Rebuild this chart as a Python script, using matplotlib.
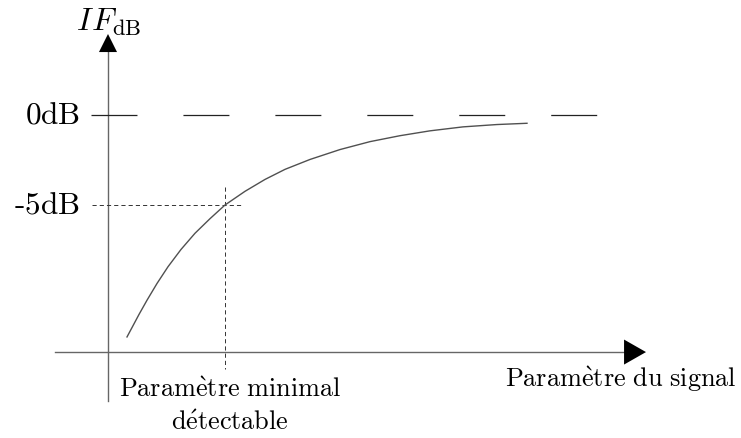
import matplotlib
matplotlib.use("Agg")
import matplotlib.pyplot as plt
import numpy as np

plt.rcParams['mathtext.fontset'] = 'cm'
plt.rcParams['lines.scale_dashes'] = False

# curve (x: signal parameter, arbitrary units; y: IF in dB)
curve_x = [0.19, 0.24, 0.31, 0.39, 0.49, 0.60, 0.73, 0.87, 1.02, 1.17, 1.37,
           1.57, 1.77, 2.02, 2.32, 2.62, 2.92, 3.22, 3.55, 3.89, 4.19]
curve_y = [-12.33, -11.81, -11.08, -10.29, -9.36, -8.43, -7.47, -6.57, -5.76, -5.0, -4.24,
           -3.58, -3.02, -2.47, -1.92, -1.48, -1.15, -0.88, -0.66, -0.53, -0.46]

level_labels = [r'$\mathrm{0dB}$', r'$\mathrm{\text{-}5dB}$']
level_values = [0, -5]
x_min_detect = 1.17

fig = plt.figure(figsize=(7.41, 4.39), dpi=100)
ax = fig.add_axes([0, 0, 1, 1])
ax.set_xlim(-1.08, 6.33)
ax.set_ylim(-17.944, 6.444)
ax.axis('off')

axis_col = '#666666'
x_axis_y = -13.17

# axes lines
ax.plot([-0.53, 5.2], [x_axis_y, x_axis_y], color=axis_col, lw=1.0)
ax.plot([0, 0], [-15.9, 3.7], color=axis_col, lw=1.0)

# arrow heads
ax.annotate('', xy=(5.38, x_axis_y), xytext=(5.0, x_axis_y),
            arrowprops=dict(arrowstyle='-|>,head_length=1.58,head_width=0.9',
                            mutation_scale=10, color='black', lw=0,
                            shrinkA=0, shrinkB=0))
ax.annotate('', xy=(0, 4.5), xytext=(0, 3.0),
            arrowprops=dict(arrowstyle='-|>,head_length=1.3,head_width=0.65',
                            mutation_scale=10, color='black', lw=0,
                            shrinkA=0, shrinkB=0))

# 0 dB long dashed line
ax.plot([-0.17, 4.9], [level_values[0], level_values[0]], color='#222222', lw=0.9,
        linestyle=(0, (33.1, 33.1)))

# -5 dB fine dashed line and the vertical one
ax.plot([-0.16, 1.35], [level_values[1], level_values[1]], color='#333333', lw=0.7,
        linestyle=(0, (3.0, 2.2)))
ax.plot([x_min_detect, x_min_detect], [-4.0, -14.1], color='#333333', lw=0.7,
        linestyle=(0, (3.0, 2.2)))

# the curve
ax.plot(curve_x, curve_y, color='#505050', lw=1.0, solid_joinstyle='round')

# texts
ax.text(-0.28, -0.39, level_labels[0], ha='right', va='baseline', fontsize=22.5)
ax.text(-0.28, -5.39, level_labels[1], ha='right', va='baseline', fontsize=22.5)
ax.text(0.01, 4.72, r'$I\!\:F_{\mathrm{dB}}$', ha='center', va='baseline', fontsize=23)
ax.text(1.22, -15.61, r'$\mathrm{Param\grave{e}tre\ minimal}$', ha='center',
        va='baseline', fontsize=18.9)
ax.text(1.22, -17.44, r'$\mathrm{d\acute{e}tectable}$', ha='center',
        va='baseline', fontsize=18.9)
ax.text(5.13, -15.06, r'$\mathrm{Param\grave{e}tre\ du\ signal}$', ha='center',
        va='baseline', fontsize=18.9)

fig.savefig('out.png', dpi=100)
